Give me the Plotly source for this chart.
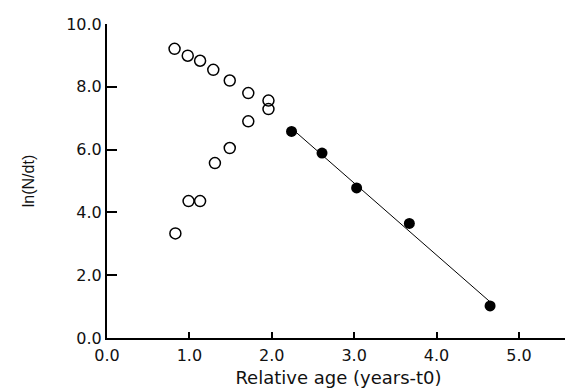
import numpy as np
import plotly.graph_objects as go

# Open circles, upper series
upper_x = [0.82, 0.98, 1.13, 1.29, 1.49, 1.715, 1.96, 1.96]
upper_y = [9.21, 8.99, 8.83, 8.54, 8.20, 7.80, 7.56, 7.29]
# Open circles, lower series
lower_x = [0.83, 0.99, 1.13, 1.31, 1.49, 1.715]
lower_y = [3.33, 4.36, 4.36, 5.57, 6.05, 6.90]
# Filled circles (fitted)
fill_x = [2.24, 2.61, 3.03, 3.67, 4.65]
fill_y = [6.58, 5.89, 4.78, 3.65, 1.02]

x_ticks = [0, 1, 2, 3, 4, 5]
x_labels = ["0.0", "1.0", "2.0", "3.0", "4.0", "5.0"]
y_ticks = [0, 2, 4, 6, 8, 10]
y_labels = ["0.0", "2.0", "4.0", "6.0", "8.0", "10.0"]

slope, intercept = np.polyfit(fill_x, fill_y, 1)
line_x = [min(fill_x), max(fill_x)]
line_y = [slope * v + intercept for v in line_x]

fig = go.Figure()
fig.add_trace(go.Scatter(x=line_x, y=line_y, mode="lines",
                         line=dict(color="black", width=1), showlegend=False))
fig.add_trace(go.Scatter(x=upper_x + lower_x, y=upper_y + lower_y, mode="markers",
                         marker=dict(symbol="circle-open", size=11, color="black",
                                     line=dict(width=1.5, color="black")),
                         showlegend=False))
fig.add_trace(go.Scatter(x=fill_x, y=fill_y, mode="markers",
                         marker=dict(symbol="circle", size=11, color="black"),
                         showlegend=False))

tick_font = dict(family="DejaVu Sans, sans-serif", size=16, color="#111")
xt_font = dict(family="DejaVu Sans, sans-serif", size=18, color="#111")
yt_font = dict(family="Liberation Sans, Arial, sans-serif", size=16, color="#111")
fig.update_layout(
    width=565, height=384,
    margin=dict(l=99, r=3, t=16, b=54),
    paper_bgcolor="white", plot_bgcolor="white",
    xaxis=dict(range=[0, 5.62], tickvals=x_ticks, ticktext=x_labels,
               showline=True, linecolor="black", linewidth=2,
               ticks="inside", ticklen=6, tickwidth=1.5, tickcolor="black",
               showgrid=False, zeroline=False, ticklabelstandoff=2,
               tickfont=tick_font, automargin=False,
               title=dict(text="Relative age (years-t0)", standoff=7, font=xt_font)),
    yaxis=dict(range=[0, 10], tickvals=y_ticks, ticktext=y_labels,
               showline=True, linecolor="black", linewidth=2,
               ticks="inside", ticklen=10, tickwidth=1.5, tickcolor="black",
               showgrid=False, zeroline=False, ticklabelstandoff=0,
               tickfont=tick_font, automargin=False,
               title=dict(text="ln(N/dt)", standoff=28, font=yt_font)),
)
fig.write_html("out.html")
